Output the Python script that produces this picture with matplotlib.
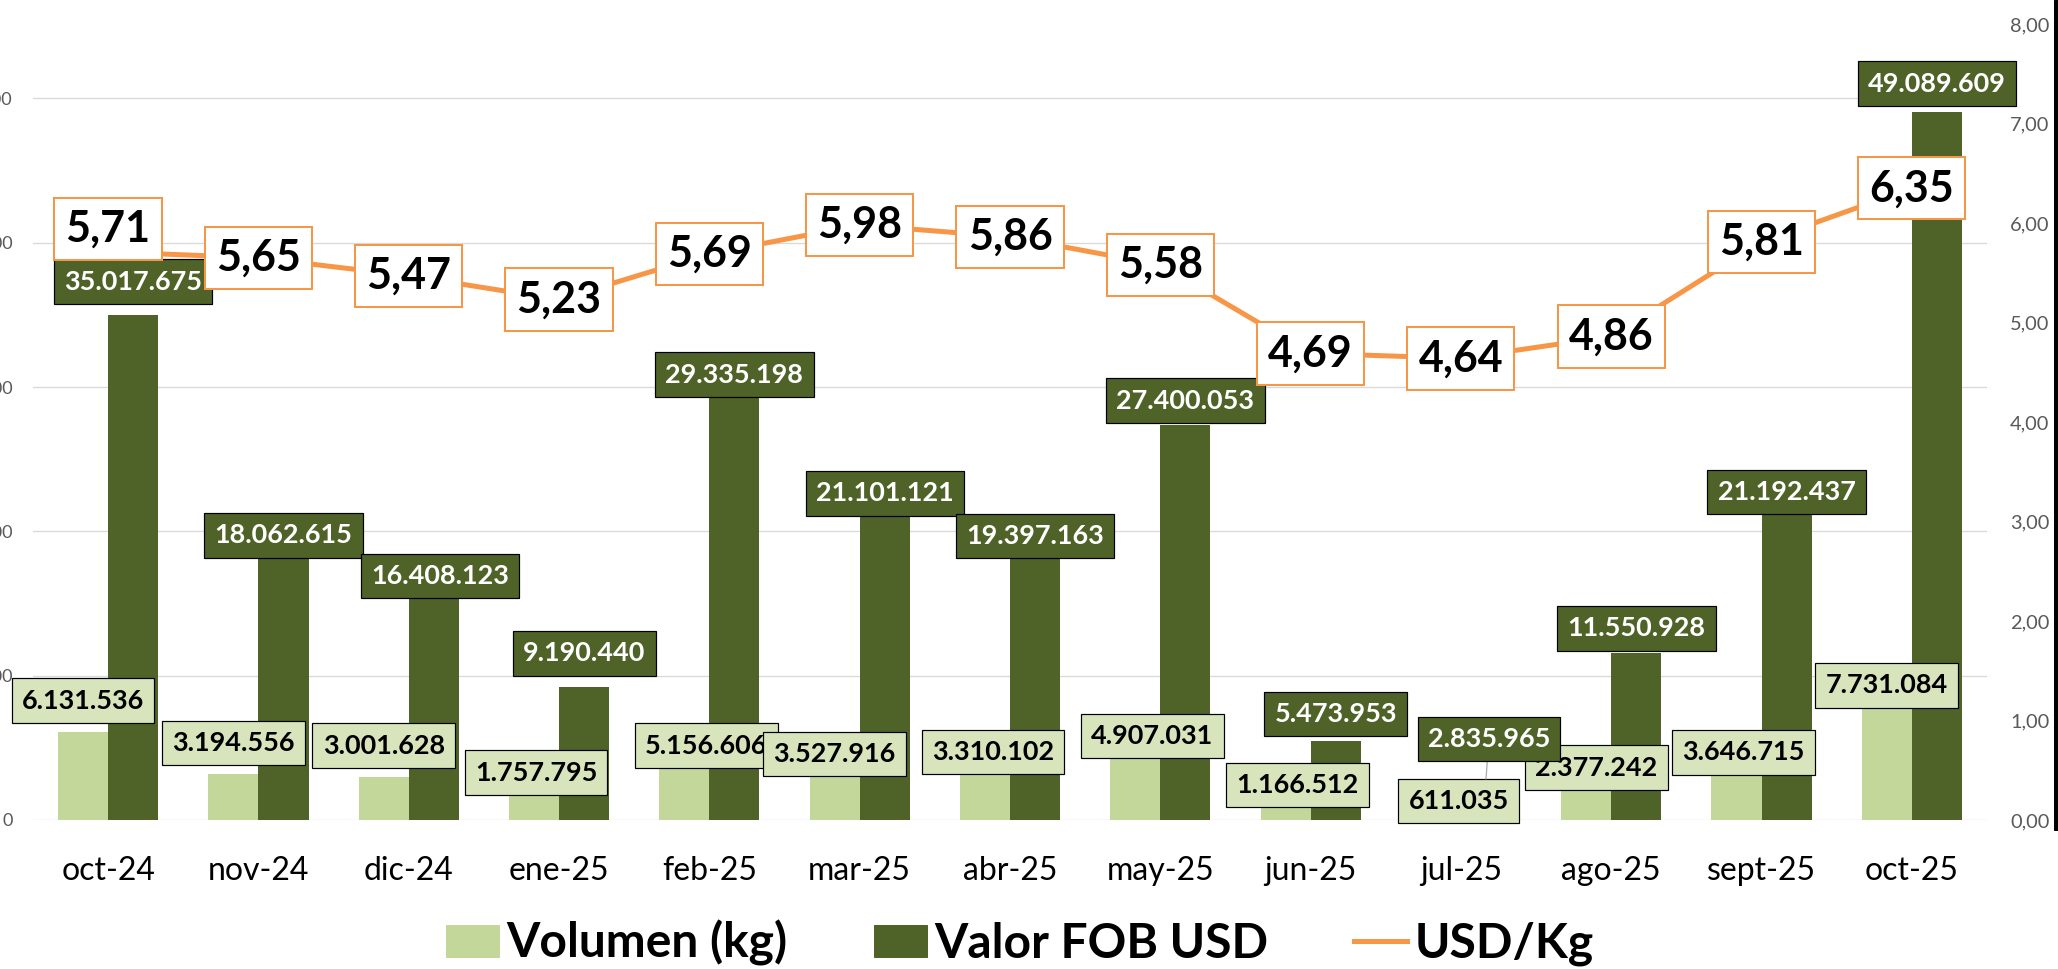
import matplotlib.pyplot as plt
import numpy as np
from matplotlib.patches import Patch, Rectangle
from matplotlib.lines import Line2D
from matplotlib.ticker import FuncFormatter

plt.rcParams['font.family'] = ['Lato', 'DejaVu Sans']

meses = ['oct-24', 'nov-24', 'dic-24', 'ene-25', 'feb-25', 'mar-25', 'abr-25',
         'may-25', 'jun-25', 'jul-25', 'ago-25', 'sept-25', 'oct-25']
volumen = [6131536, 3194556, 3001628, 1757795, 5156606, 3527916, 3310102,
           4907031, 1166512, 611035, 2377242, 3646715, 7731084]
valor_fob = [35017675, 18062615, 16408123, 9190440, 29335198, 21101121, 19397163,
             27400053, 5473953, 2835965, 11550928, 21192437, 49089609]
usd_kg = [5.71, 5.65, 5.47, 5.23, 5.69, 5.98, 5.86, 5.58, 4.69, 4.64, 4.86, 5.81, 6.35]

# desplazamiento de las etiquetas (px) respecto a la punta de cada barra / punto
vol_dx = [0, 0, 0, 2, 22, 0, 8, 17, 12, 23, 10, 7, 0]
vol_dy = [31, 31, 31, 22, 0, 15, 20, 13, 18, 10, 18, 15, 23]
val_dx = [0, 0, 6, 0, 0, 0, 0, 0, 0, 3, 0, 0, 0]
val_dy = [33, 24, 7, 34, 22, 22, 4, 24, 27, 40, 25, 22, 28]
usd_dy = [23, 0, 0, 0, 0, 0, 0, 0, 0, 0, 0, 0, 0]

C_VOL = '#C4D79B'
C_VOL_LBL = '#D8E4BC'
C_VAL = '#4F6228'
C_LINE = '#F79646'
C_AXIS = '#595959'


def miles(v):
    return f"{int(round(v)):,}".replace(',', '.')


def decimal(v):
    return f"{v:.2f}".replace('.', ',')


W, H = 2058, 969
fig = plt.figure(figsize=(W / 72, H / 72), dpi=72)
ax = fig.add_axes([33 / W, 1 - 820 / H, (1987 - 33) / W, (820 - 24) / H])
ax2 = ax.twinx()

x = np.arange(len(meses))
bw = 1 / 3
ax.bar(x - bw / 2, volumen, bw, color=C_VOL, zorder=2)
ax.bar(x + bw / 2, valor_fob, bw, color=C_VAL, zorder=2)
ax.set_xlim(-0.5, len(meses) - 0.5)
ax.set_ylim(0, 55.16e6)
ax.set_yticks(np.arange(0, 50e6 + 1, 10e6))
ax.yaxis.set_major_formatter(FuncFormatter(lambda v, p: miles(v)))
ax.grid(axis='y', color='#D9D9D9', lw=1.3)
ax.set_axisbelow(True)
ax.set_xticks(x)
ax.set_xticklabels(meses)
ax.tick_params(axis='y', length=0, pad=20, labelsize=18, labelcolor=C_AXIS)
ax.tick_params(axis='x', length=0, pad=36, labelsize=32, labelcolor='black')

ax2.plot(x, usd_kg, color=C_LINE, lw=5, solid_capstyle='round', zorder=2)
ax2.set_ylim(0, 8)
ax2.set_yticks(np.arange(0, 9))
ax2.yaxis.set_major_formatter(FuncFormatter(lambda v, p: decimal(v)))
ax2.tick_params(axis='y', length=0, pad=23, labelsize=20, labelcolor=C_AXIS)

for a in (ax, ax2):
    for s in a.spines.values():
        s.set_visible(False)

for i in range(len(meses)):
    ax2.annotate(miles(volumen[i]), xy=(x[i] - bw / 2, volumen[i]), xycoords=ax.transData,
                 xytext=(vol_dx[i], vol_dy[i]), textcoords='offset points',
                 ha='center', va='center', fontsize=27, fontweight='bold', color='black',
                 bbox=dict(boxstyle='square,pad=0.38', fc=C_VOL_LBL, ec='black', lw=1.2),
                 zorder=4, annotation_clip=False)

for i in range(len(meses)):
    arrow = None
    if val_dy[i] >= 40:
        arrow = dict(arrowstyle='-', color='#A6A6A6', lw=1.2, shrinkA=0, shrinkB=0)
    ax2.annotate(miles(valor_fob[i]), xy=(x[i] + bw / 2, valor_fob[i]), xycoords=ax.transData,
                 xytext=(val_dx[i], val_dy[i]), textcoords='offset points',
                 ha='center', va='center', fontsize=27, fontweight='bold', color='white',
                 bbox=dict(boxstyle='square,pad=0.38', fc=C_VAL, ec='black', lw=1.2),
                 arrowprops=arrow, zorder=5, annotation_clip=False)

for i in range(len(meses)):
    ax2.annotate(decimal(usd_kg[i]), xy=(x[i], usd_kg[i]),
                 xytext=(0, usd_dy[i]), textcoords='offset points',
                 ha='center', va='center', fontsize=43, fontweight='bold', color='black',
                 bbox=dict(boxstyle='square,pad=0.26', fc='white', ec=C_LINE, lw=2),
                 zorder=6, annotation_clip=False)

handles = [Patch(color=C_VOL), Patch(color=C_VAL), Line2D([], [], color=C_LINE, lw=5)]
fig.legend(handles, ['Volumen (kg)', 'Valor FOB USD', 'USD/Kg'], loc='center',
           bbox_to_anchor=(1020 / W, 1 - 943 / H), ncol=3, frameon=False,
           prop={'size': 48, 'weight': 'bold'}, handlelength=1.1, handleheight=0.65,
           handletextpad=0.15, columnspacing=1.8, borderpad=0)

# borde oscuro del recorte original
fig.patches.append(Rectangle((2054 / W, 1 - 830 / H), 4 / W, 830 / H,
                             transform=fig.transFigure, color='black'))

fig.savefig('out.png', dpi=72)
